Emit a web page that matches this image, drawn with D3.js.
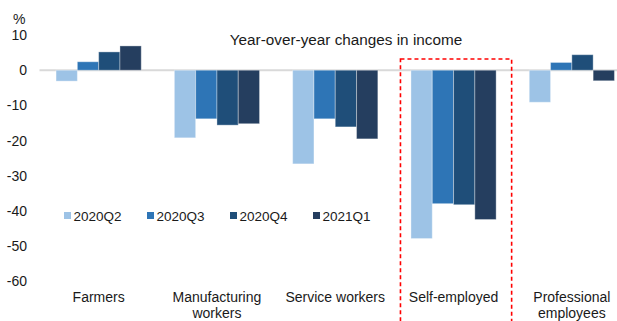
<!DOCTYPE html>
<html>
<head>
<meta charset="utf-8">
<title>Year-over-year changes in income</title>
<script src="https://cdn.jsdelivr.net/npm/d3@7"></script>
<style>
  body { margin: 0; background: #fff; }
  svg text { font-family: "Liberation Sans", Arial, sans-serif; fill: #1a1a1a; }
</style>
</head>
<body>
<script>
// data
var categories = ["Farmers", "Manufacturing workers", "Service workers", "Self-employed", "Professional employees"];
var catLines = [["Farmers"], ["Manufacturing", "workers"], ["Service workers"], ["Self-employed"], ["Professional", "employees"]];
var seriesNames = ["2020Q2", "2020Q3", "2020Q4", "2021Q1"];
var q2_2020 = [-3.1, -19.2, -26.6, -47.8, -9.1];
var q3_2020 = [2.4, -13.8, -13.8, -37.9, 2.2];
var q4_2020 = [5.2, -15.6, -16.1, -38.2, 4.4];
var q1_2021 = [6.9, -15.2, -19.5, -42.4, -3.0];
var yTicks = [10, 0, -10, -20, -30, -40, -50, -60];
var colors = ["#9dc3e6", "#2e75b6", "#1f4e79", "#253e5f"];

var allSeries = [q2_2020, q3_2020, q4_2020, q1_2021];

var w = 617, h = 321;
var svg = d3.select("body").append("svg")
    .attr("width", w)
    .attr("height", h);

// scales (plot runs off the right edge, like the original crop)
var x0 = d3.scaleBand().domain(categories).range([39.5, 631]).paddingInner(0.28).paddingOuter(0.14);
var x1 = d3.scaleBand().domain(seriesNames).range([0, x0.bandwidth()]);
var y = d3.scaleLinear().domain([-60, 10]).range([281.5, 35]);

// y axis labels (plain hyphen minus like the original)
var yAxis = d3.axisLeft(y).tickValues(yTicks).tickSize(0).tickPadding(0)
    .tickFormat(function(d) { return String(d); });
var gy = svg.append("g").attr("transform", "translate(27,0)").call(yAxis);
gy.select(".domain").remove();
gy.attr("font-size", null).attr("font-family", null);
gy.selectAll("text").style("font-size", "14px").attr("fill", "#1a1a1a");

svg.append("text").attr("x", 13).attr("y", 24).style("font-size", "14px").text("%");

// zero line
svg.append("line")
    .attr("x1", 39.5).attr("x2", w)
    .attr("y1", y(0)).attr("y2", y(0))
    .attr("stroke", "#d9d9d9").attr("stroke-width", 2);

// bars
var groups = svg.selectAll(".grp")
    .data(categories)
    .enter().append("g")
    .attr("class", "grp")
    .attr("transform", function(d) { return "translate(" + x0(d) + ",0)"; });

groups.selectAll("rect")
    .data(function(d, i) { return seriesNames.map(function(s, j) { return {s: s, v: allSeries[j][i], j: j}; }); })
    .enter().append("rect")
    .attr("x", function(d) { return x1(d.s); })
    .attr("width", x1.bandwidth())
    .attr("y", function(d) { return d.v >= 0 ? y(d.v) : y(0); })
    .attr("height", function(d) { return Math.abs(y(d.v) - y(0)); })
    .attr("fill", function(d) { return colors[d.j]; })
    .attr("stroke", "rgba(255,255,255,0.35)")
    .attr("stroke-width", 1);

// category labels
var lab = svg.selectAll(".cat")
    .data(categories)
    .enter().append("text")
    .attr("class", "cat")
    .attr("text-anchor", "middle")
    .attr("x", function(d) { return x0(d) + x0.bandwidth() / 2; })
    .attr("y", 302)
    .style("font-size", "14px");
lab.selectAll("tspan")
    .data(function(d, i) { return catLines[i]; })
    .enter().append("tspan")
    .attr("x", function() { return this.parentNode.getAttribute("x"); })
    .attr("dy", function(d, i) { return i === 0 ? 0 : 16; })
    .text(function(d) { return d; });

// highlight box around Self-employed
var se = x0("Self-employed");
svg.append("rect")
    .attr("x", se - 10.5)
    .attr("y", 59)
    .attr("width", x0.bandwidth() + 26)
    .attr("height", 300)
    .attr("fill", "none")
    .attr("stroke", "#ff0000")
    .attr("stroke-width", 1.6)
    .attr("stroke-dasharray", "4,3");

// title
svg.append("text")
    .attr("x", 346).attr("y", 45)
    .attr("text-anchor", "middle")
    .style("font-size", "15.3px")
    .text("Year-over-year changes in income");

// legend
var leg = svg.selectAll(".leg")
    .data(seriesNames)
    .enter().append("g")
    .attr("class", "leg")
    .attr("transform", function(d, i) { return "translate(" + (64 + i * 83) + ",212)"; });
leg.append("rect").attr("width", 7).attr("height", 7).attr("y", 0)
    .attr("fill", function(d, i) { return colors[i]; });
leg.append("text").attr("x", 9.5).attr("y", 8.5).style("font-size", "13.5px").text(function(d) { return d; });
</script>
</body>
</html>
